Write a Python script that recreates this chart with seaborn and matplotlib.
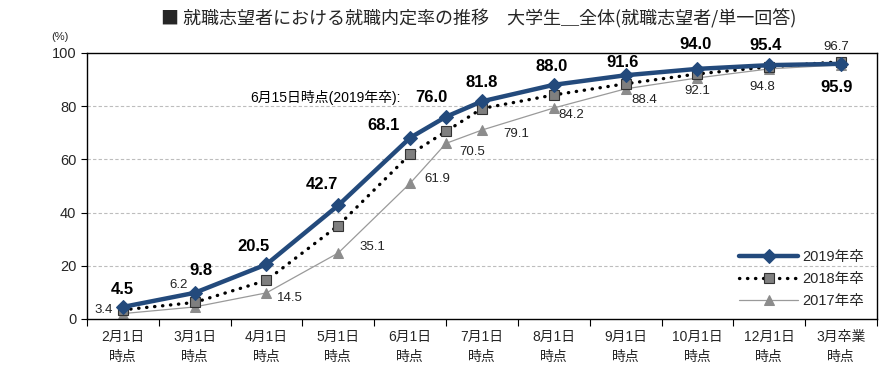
import matplotlib
matplotlib.use('Agg')
import matplotlib.pyplot as plt
import seaborn as sns
import pandas as pd

# categories on the x axis (2 lines each)
categories = ['2月1日\n時点', '3月1日\n時点', '4月1日\n時点', '5月1日\n時点', '6月1日\n時点',
              '7月1日\n時点', '8月1日\n時点', '9月1日\n時点', '10月1日\n時点', '12月1日\n時点',
              '3月卒業\n時点']

# survey points (category index, 6/15 lies between June and July)
points = [0, 1, 2, 3, 4, 4.5, 5, 6, 7, 8, 9, 10]

rate_2019 = [4.5, 9.8, 20.5, 42.7, 68.1, 76.0, 81.8, 88.0, 91.6, 94.0, 95.4, 95.9]
rate_2018 = [3.4, 6.2, 14.5, 35.1, 61.9, 70.5, 79.1, 84.2, 88.4, 92.1, 94.8, 96.7]
rate_2017 = [2.0, 4.5, 9.8, 24.8, 51.0, 66.0, 71.0, 79.3, 86.5, 90.6, 94.0, 95.5]

df = pd.DataFrame({'pos': points, '2019': rate_2019, '2018': rate_2018, '2017': rate_2017})

sns.set_theme(style='white')
plt.rcParams['font.family'] = ['Liberation Sans', 'Noto Sans CJK JP', 'DejaVu Sans']

fig = plt.figure(figsize=(8.95, 3.70), dpi=100)
ax = fig.add_axes([0.097, 0.138, 0.883, 0.719])

navy = '#234a7c'

# グリッド
for yv in [20, 40, 60, 80]:
    ax.axhline(yv, color='#bdbdbd', lw=0.8, ls=(0, (3, 2)), zorder=0)

sns.lineplot(data=df, x='pos', y='2017', ax=ax, color='#9a9a9a', lw=0.9, marker='^',
             markersize=7, markerfacecolor='#8c8c8c', markeredgecolor='#8c8c8c', label='2017年卒', zorder=2)
sns.lineplot(data=df, x='pos', y='2018', ax=ax, color='black', lw=2.4, ls=(0, (0.1, 2.3)),
             dash_capstyle='round', marker='s', markersize=6.5, markerfacecolor='#7f7f7f',
             markeredgecolor='#333333', markeredgewidth=0.8, label='2018年卒', zorder=3)
sns.lineplot(data=df, x='pos', y='2019', ax=ax, color=navy, lw=3.2, marker='D',
             markersize=7.5, markerfacecolor=navy, markeredgecolor=navy, label='2019年卒', zorder=4)

# 2019 labels (bold, above)
off19 = [(0, 17), (6, 22), (-13, 18), (-16, 21), (-27, 12), None, (0, 19), (-2, 18), (-3, 13),
         (-2, 24), (-4, 20), (-5, -24)]
for p, v, o in zip(points, rate_2019, off19):
    if o is None:
        continue
    ax.annotate(f'{v:.1f}', (p, v), xytext=o, textcoords='offset pixels', ha='center', va='center',
                fontsize=12, fontweight='bold', color='black')

# 6/15 label
ax.annotate(f'{rate_2019[5]:.1f}', (points[5], rate_2019[5]), xytext=(1, 19), textcoords='offset pixels',
            ha='right', va='center', fontsize=12, fontweight='bold', color='black')
ax.annotate('6月15日時点(2019年卒):', (points[5], rate_2019[5]), xytext=(-45, 19),
            textcoords='offset pixels', ha='right', va='center', fontsize=10, color='black')

# 2018 labels
off18 = [(-19, 0), (-16, 17), (23, -18), (34, -21), (27, -25), (26, -21), (34, -25), (17, -20),
         (19, -16), (0, -17), (-7, -20), (-5, 15)]
for p, v, o in zip(points, rate_2018, off18):
    ax.annotate(f'{v:.1f}', (p, v), xytext=o, textcoords='offset pixels', ha='center', va='center',
                fontsize=9.5, color='#222222')

ax.set_xlim(-0.5, 10.5)
ax.set_ylim(0, 100)
ax.set_yticks([0, 20, 40, 60, 80, 100])
ax.set_xticks(range(len(categories)))
ax.set_xticklabels(categories, fontsize=10, linespacing=1.5)
ax.set_xticks([i - 0.5 for i in range(len(categories) + 1)], minor=True)
ax.tick_params(axis='x', which='major', length=0, pad=8)
ax.tick_params(axis='x', which='minor', length=5, width=0.8, color='black', direction='out', bottom=True)
ax.tick_params(axis='y', length=4, width=0.8, color='black', direction='out', left=True, labelsize=10.5)
ax.set_xlabel('')
ax.set_ylabel('')

for s in ax.spines.values():
    s.set_color('black')
    s.set_linewidth(1.0)

handles, labels = ax.get_legend_handles_labels()
order = [labels.index(l) for l in ['2019年卒', '2018年卒', '2017年卒']]
ax.legend([handles[i] for i in order], [labels[i] for i in order], loc='lower right',
          bbox_to_anchor=(1.0, -0.01), frameon=False, fontsize=10.5, handlelength=4.0,
          handletextpad=0.3, labelspacing=0.55)

fig.text(0.067, 0.9, '(%)', fontsize=8, ha='center', va='center')
fig.text(0.535, 0.95, '■ 就職志望者における就職内定率の推移　大学生＿全体(就職志望者/単一回答)',
         fontsize=13, ha='center', va='center', family=['Noto Sans CJK JP', 'DejaVu Sans'])

fig.savefig('out.png', dpi=100)
